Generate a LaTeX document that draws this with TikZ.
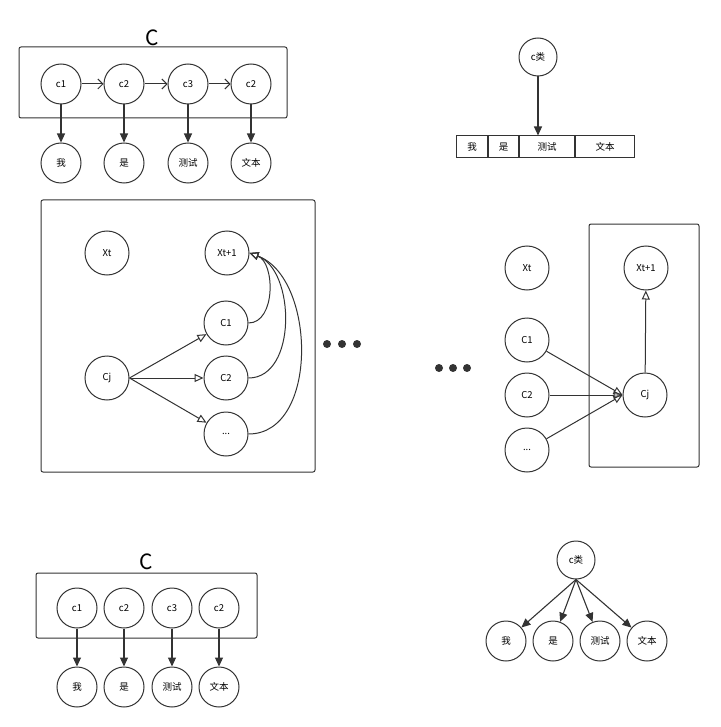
\documentclass[tikz,border=0pt]{standalone}
\usepackage{fontspec}
\setmainfont{Noto Sans CJK SC}
\usetikzlibrary{arrows.meta, positioning}

\definecolor{ln}{HTML}{333333}

\begin{document}
\begin{tikzpicture}[x=1pt, y=-1pt,
    every node/.style={font=\fontsize{9.5}{11}\selectfont},
    nd/.style={circle, draw=ln, line width=1pt, minimum size=40pt, inner sep=0pt},
    bn/.style={nd, minimum size=44pt},
    cell/.style={draw=ln, line width=1pt, minimum height=22pt, inner sep=0pt, anchor=west},
    frm/.style={draw=ln, line width=1pt, rounded corners=2pt},
    big/.style={font=\fontsize{21}{24}\selectfont},
    fa/.style={-{Triangle[length=9pt, width=8pt]}, draw=ln, line width=1.1pt},
    oa/.style={-{Triangle[open, length=9pt, width=8pt]}, draw=ln, line width=1pt},
    ba/.style={-{Straight Barb[length=5pt, width=10pt]}, draw=ln, line width=1pt},
    dot/.style={circle, fill=ln, inner sep=0pt, minimum size=8pt}
]
\useasboundingbox (0,0) rectangle (720,727);

% top left: chain of classes
\draw[frm] (19,47) rectangle (287,118);
\node[big] (ca) at (152,38) {C};
\node[nd] (a1) at (61,84)  {c1};
\node[nd] (a2) at (124,84) {c2};
\node[nd] (a3) at (188,84) {c3};
\node[nd] (a4) at (251,84) {c2};
\node[nd] (w1) at (61,163)  {我};
\node[nd] (w2) at (124,163) {是};
\node[nd] (w3) at (188,163) {测试};
\node[nd] (w4) at (251,163) {文本};
\draw[ba] (a1) -- (a2);
\draw[ba] (a2) -- (a3);
\draw[ba] (a3) -- (a4);
\draw[fa] (a1) -- (w1);
\draw[fa] (a2) -- (w2);
\draw[fa] (a3) -- (w3);
\draw[fa] (a4) -- (w4);

% top right: one class over the sentence
\node[nd, minimum size=38pt] (cl) at (538,57) {c类};
\node[cell, minimum width=31pt] (t1) at (456,147) {我};
\node[cell, minimum width=30pt] (t2) at (t1.east) {是};
\node[cell, minimum width=55pt] (t3) at (t2.east) {测试};
\node[cell, minimum width=59pt] (t4) at (t3.east) {文本};
\draw[fa] (cl) -- (cl |- t3.north);

% middle left
\draw[frm] (41,200) rectangle (315,472);
\node[bn] (xt)  at (107,253) {Xt};
\node[bn] (xt1) at (227,253) {Xt+1};
\node[bn] (c1)  at (226,323) {C1};
\node[bn] (c2)  at (226,378) {C2};
\node[bn] (c3)  at (226,434) {...};
\node[bn] (cj)  at (107,378) {Cj};
\draw[oa] (cj.east) -- (c1);
\draw[oa] (cj.east) -- (c2);
\draw[oa] (cj.east) -- (c3);
\draw[oa] (c1.east) to[out=0, in=-20] (xt1.east);
\draw[oa] (c2.east) to[out=0, in=-20] (xt1.east);
\draw[oa] (c3.east) to[out=0, in=-20] (xt1.east);

% dots
\node[dot] (d1) at (327,344) {};
\node[dot] (d2) at (342,344) {};
\node[dot] (d3) at (357,344) {};
\node[dot] (e1) at (439,368) {};
\node[dot] (e2) at (453,368) {};
\node[dot] (e3) at (467,368) {};

% middle right
\draw[frm] (589,224) rectangle (699,467);
\node[bn] (rxt)  at (527,268) {Xt};
\node[bn] (rxt1) at (646,268) {Xt+1};
\node[bn] (rc1)  at (527,340) {C1};
\node[bn] (rc2)  at (527,395) {C2};
\node[bn] (rc3)  at (527,450) {...};
\node[bn] (rcj)  at (645,395) {Cj};
\draw[oa] (rc1) -- (rcj.west);
\draw[oa] (rc2) -- (rcj.west);
\draw[oa] (rc3) -- (rcj.west);
\draw[oa] (rcj) -- (rxt1);

% bottom left
\draw[frm] (36,573) rectangle (257,638);
\node[big] (cb) at (146,562) {C};
\node[nd] (b1) at (77,608)  {c1};
\node[nd] (b2) at (124,608) {c2};
\node[nd] (b3) at (172,608) {c3};
\node[nd] (b4) at (219,608) {c2};
\node[nd] (v1) at (77,687)  {我};
\node[nd] (v2) at (124,687) {是};
\node[nd] (v3) at (172,687) {测试};
\node[nd] (v4) at (219,687) {文本};
\draw[fa] (b1) -- (v1);
\draw[fa] (b2) -- (v2);
\draw[fa] (b3) -- (v3);
\draw[fa] (b4) -- (v4);

% bottom right
\node[nd, minimum size=38pt] (cl2) at (576,560) {c类};
\node[nd] (u1) at (506,641) {我};
\node[nd] (u2) at (553,641) {是};
\node[nd] (u3) at (600,641) {测试};
\node[nd] (u4) at (647,641) {文本};
\draw[fa] (cl2.south) -- (u1);
\draw[fa] (cl2.south) -- (u2);
\draw[fa] (cl2.south) -- (u3);
\draw[fa] (cl2.south) -- (u4);
\end{tikzpicture}
\end{document}
